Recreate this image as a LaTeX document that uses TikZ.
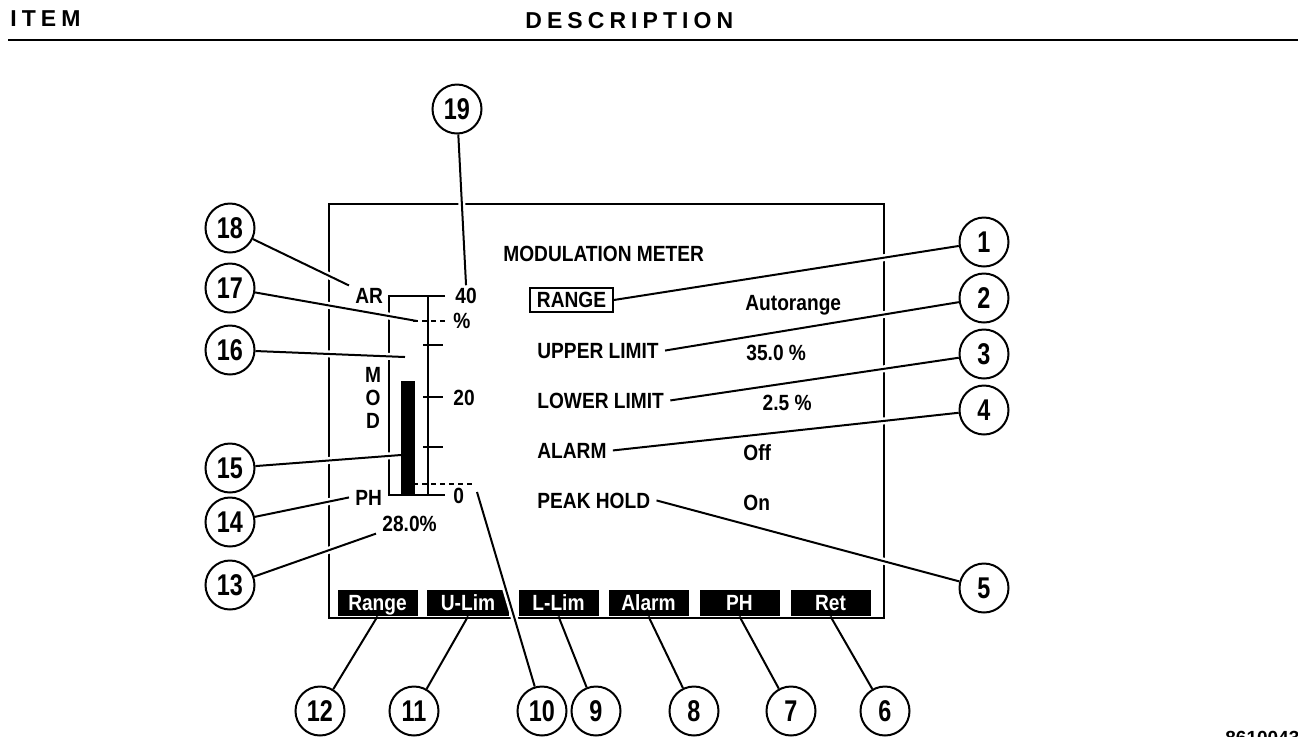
\documentclass[tikz,border=0pt]{standalone}
\usepackage{fontspec}
\setmainfont{Liberation Sans}
\newfontfamily\screenfont[FakeStretch=0.87]{Liberation Sans}
\newfontfamily\calloutfont[FakeStretch=0.78]{Liberation Sans}
\newfontfamily\headfont[LetterSpace=22]{Liberation Sans}
\tikzset{callout/.style={circle,draw=black,line width=1pt,minimum size=24.5pt,inner sep=0pt,font=\calloutfont\bfseries\fontsize{15}{15}\selectfont}}
\tikzset{scrtext/.style={inner xsep=3pt,inner ysep=1pt,font=\screenfont\bfseries\fontsize{11}{13}\selectfont}}
\tikzset{softkey/.style={fill=black,text=white,minimum width=40pt,minimum height=13pt,inner sep=0pt,text height=7.9pt,text depth=0pt,font=\screenfont\bfseries\fontsize{11}{13}\selectfont}}
\tikzset{leader/.style={line width=1pt,preaction={draw=white,line width=3.5pt,shorten <=2pt,shorten >=2.5pt}}}
\tikzset{meterline/.style={line width=0.75pt}}
\tikzset{limitline/.style={meterline,dash pattern=on 2.5pt off 2pt}}

\begin{document}
\begin{tikzpicture}[x=0.5pt,y=-0.5pt]
\useasboundingbox (0,0) rectangle (1298,736);

% page header
\node[anchor=base west,inner sep=0pt,font=\headfont\bfseries\fontsize{11.5}{13}\selectfont] (item) at (10,26) {ITEM};
\node[anchor=base west,inner sep=0pt,font=\headfont\bfseries\fontsize{11.5}{13}\selectfont] (descr) at (525,28) {DESCRIPTION};
\draw[line width=1pt] (8,40) -- (1298,40);

% screen outline
\draw[line width=1.25pt] (329,204) rectangle (884,618);

% bar graph
\draw[meterline] (445,296) -- (389,296) -- (389,495) -- (445,495);
\draw[meterline] (428,296) -- (428,495);
\foreach \y in {345,397,447} {%
    \draw[meterline] (423,\y) -- (443,\y);
}
\fill (401,381) rectangle (415,495);
\draw[limitline] (413,321) -- (447,321);% upper limit
\draw[limitline] (413,484) -- (473,484);% lower limit
\coordinate (uppermark) at (417,321);
\coordinate (scalemark) at (405,357);
\coordinate (barmark) at (401,455);
\coordinate (zeroend) at (477,492);

\node[scrtext,anchor=base west] (ar) at (349,303) {AR};
\node[scrtext,anchor=base west] (ph) at (349,505) {PH};
\node[scrtext,anchor=base] (modm) at (373,382) {M};
\node[scrtext,anchor=base] (modo) at (373,405) {O};
\node[scrtext,anchor=base] (modd) at (373,428) {D};
\node[scrtext,anchor=base west] (forty) at (449,303) {40};
\node[scrtext,anchor=base west] (pcent) at (447,328) {\%};
\node[scrtext,anchor=base west] (twenty) at (447,405) {20};
\node[scrtext,anchor=base west] (zero) at (447,503) {0};
\node[scrtext,anchor=base west] (reading) at (376,531) {28.0\%};

% menu
\node[scrtext,anchor=base west] (title) at (497,261) {MODULATION METER};
\node[scrtext,draw,line width=0.75pt,inner xsep=3.5pt,inner ysep=2.2pt] (rangebox) at (571.5,300) {RANGE};
\node[scrtext,anchor=base west] (autorange) at (739,310) {Autorange};
\node[scrtext,anchor=base west] (upper) at (531,358) {UPPER LIMIT};
\node[scrtext,anchor=base west] (upperval) at (740,360) {35.0 \%};
\node[scrtext,anchor=base west] (lower) at (531,408) {LOWER LIMIT};
\node[scrtext,anchor=base east] (lowerval) at (818,410) {2.5 \%};
\node[scrtext,anchor=base west] (alarm) at (531,458) {ALARM};
\node[scrtext,anchor=base west] (alarmval) at (737,460) {Off};
\node[scrtext,anchor=base west] (peak) at (531,508) {PEAK HOLD};
\node[scrtext,anchor=base west] (peakval) at (737,510) {On};

% soft keys
\node[softkey] (rangekey) at (377.5,603) {Range};
\node[softkey,minimum width=41pt] (ulimkey) at (468,603) {U-Lim};
\node[softkey] (llimkey) at (558.5,603) {L-Lim};
\node[softkey] (alarmkey) at (648.5,603) {Alarm};
\node[softkey] (phkey) at (739.5,603) {PH};
\node[softkey] (retkey) at (830.5,603) {Ret};

\node[anchor=north west,inner sep=0pt,font=\bfseries\fontsize{9.5}{10}\selectfont] (figno) at (1225,731) {8610043};

% callouts
\foreach \n/\x/\y in {1/984/242,2/984/298,3/984/354,4/984/410,5/984/588,
    6/885/711,7/791/711,8/694/711,9/596/711,10/542/711,11/414/711,12/320/711,
    13/230/585,14/230/522,15/230/468,16/230/350,17/230/288,18/230/228,19/457/109} {%
    \node[callout] (c\n) at (\x,\y) {\n};
}

\draw[leader] (c1) -- (rangebox.east);
\draw[leader] (c2) -- (upper.east);
\draw[leader] (c3) -- (lower.east);
\draw[leader] (c4) -- (alarm.east);
\draw[leader] (c5) -- (peak.east);
\draw[leader] (c6) -- (retkey.south);
\draw[leader] (c7) -- (phkey.south);
\draw[leader] (c8) -- (alarmkey.south);
\draw[leader] (c9) -- (llimkey.south);
\draw[leader] (c10) -- (zeroend);
\draw[leader] (c11) -- (ulimkey.south);
\draw[leader] (c12) -- (rangekey.south);
\draw[leader] (c13) -- (reading.south west);
\draw[leader] (c14) -- (ph.west);
\draw[leader] (c15) -- (barmark);
\draw[leader] (c16) -- (scalemark);
\draw[leader] (c17) -- (uppermark);
\draw[leader] (c18) -- (ar.north west);
\draw[leader] (c19) -- (forty.north);

\end{tikzpicture}
\end{document}
